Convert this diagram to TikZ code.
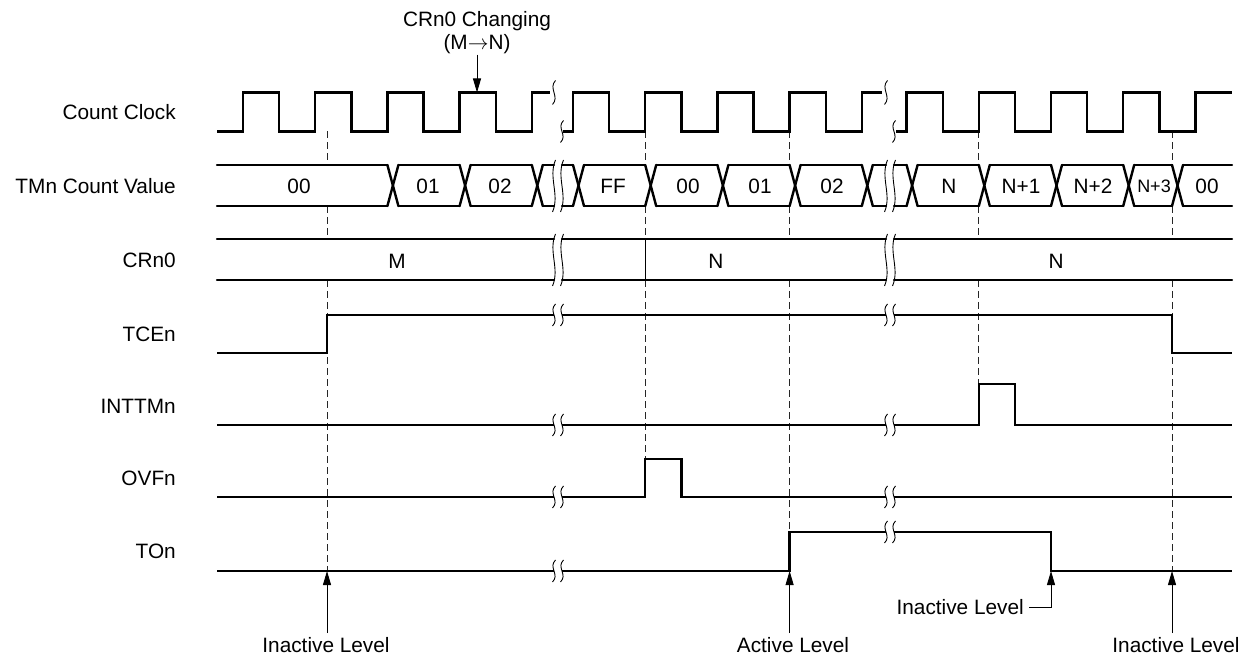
\documentclass[tikz,border=0pt]{standalone}
\usepackage{fontspec}
\setmainfont{Liberation Sans}
\usetikzlibrary{arrows.meta,calc}
\newcommand{\wavy}[3]{\draw[thinl] (#1+1.5,#2-#3) .. controls (#1-6,#2-#3/3) and (#1+6,#2+#3/3) .. (#1-1.5,#2+#3);}
\begin{document}
\begin{tikzpicture}[x=1pt,y=-1pt,
  sig/.style={line width=2.4pt, line join=miter, line cap=butt},
  bus/.style={line width=2.4pt, line cap=round},
  thinl/.style={line width=0.9pt},
  guide/.style={line width=0.9pt, dash pattern=on 7pt off 4pt, black!85},
  arr/.style={line width=0.9pt, -{Triangle[length=14pt,width=8pt]}},
  lbl/.style={font=\fontsize{20.8}{24}\selectfont, inner sep=0pt},
  val/.style={font=\fontsize{20.8}{24}\selectfont, inner sep=0pt},
  sval/.style={font=\fontsize{18}{20}\selectfont, inner sep=0pt}]
\path[use as bounding box] (0,0) rectangle (1256,660);

% ---- signal names ----
\node[lbl, anchor=east] (lclk) at (176,112) {Count Clock};
\node[lbl, anchor=east] (ltm)  at (176,186) {TMn Count Value};
\node[lbl, anchor=east] (lcr)  at (176,260) {CRn0};
\node[lbl, anchor=east] (ltce) at (176,334) {TCEn};
\node[lbl, anchor=east] (lint) at (176,406) {INTTMn};
\node[lbl, anchor=east] (lovf) at (176,478) {OVFn};
\node[lbl, anchor=east] (lton) at (176,551) {TOn};

% ---- dashed guides ----
\foreach \x/\e in {327/571, 645.2/459, 789.6/532, 978.8/384, 1172/571} {
  \draw[guide] (\x,131.5) -- (\x,165);
  \draw[guide] (\x,206) -- (\x,239);
  \draw[guide] (\x,280) -- (\x,\e);
}

% ---- count clock ----
\draw[sig] (217,131.5) -- (243,131.5) -- (243,92.5) -- (279.1,92.5) -- (279.1,131.5)
  -- (315.2,131.5) -- (315.2,92.5) -- (351.3,92.5) -- (351.3,131.5)
  -- (387.4,131.5) -- (387.4,92.5) -- (423.5,92.5) -- (423.5,131.5)
  -- (459.6,131.5) -- (459.6,92.5) -- (495.7,92.5) -- (495.7,131.5)
  -- (531.8,131.5) -- (531.8,92.5) -- (550,92.5);
\draw[sig] (563,131.5) -- (573,131.5) -- (573,92.5) -- (609.1,92.5) -- (609.1,131.5)
  -- (645.2,131.5) -- (645.2,92.5) -- (681.3,92.5) -- (681.3,131.5)
  -- (717.4,131.5) -- (717.4,92.5) -- (753.5,92.5) -- (753.5,131.5)
  -- (789.6,131.5) -- (789.6,92.5) -- (825.7,92.5) -- (825.7,131.5)
  -- (861.8,131.5) -- (861.8,92.5) -- (882,92.5);
\draw[sig] (896,131.5) -- (906.6,131.5) -- (906.6,92.5) -- (942.7,92.5) -- (942.7,131.5)
  -- (978.8,131.5) -- (978.8,92.5) -- (1014.9,92.5) -- (1014.9,131.5)
  -- (1051,131.5) -- (1051,92.5) -- (1087.1,92.5) -- (1087.1,131.5)
  -- (1123.2,131.5) -- (1123.2,92.5) -- (1159.3,92.5) -- (1159.3,131.5)
  -- (1195.4,131.5) -- (1195.4,92.5) -- (1232,92.5);
\wavy{554}{92.5}{12}
\wavy{562}{131.5}{11}
\wavy{886}{92.5}{12}
\wavy{894}{131.5}{11}

% ---- TMn count value bus ----
\foreach \a/\b in {217/387.4, 398.4/459.6, 470.6/531.8, 542.8/554, 562/573,
    584/645.2, 656.2/717.4, 728.4/789.6, 800.6/861.8, 872.8/886, 894/906.6,
    917.6/978.8, 989.8/1051, 1062/1123.2, 1134.2/1172, 1183/1232} {
  \draw[bus] (\a,165) -- (\b,165);
  \draw[bus] (\a,206) -- (\b,206);
}
\foreach \x in {387.4, 459.6, 531.8, 573, 645.2, 717.4, 789.6, 861.8, 906.6,
    978.8, 1051, 1123.2, 1172} {
  \draw[bus] (\x,165) -- (\x+11,206);
  \draw[bus] (\x,206) -- (\x+11,165);
}
\wavy{554}{186}{26}
\wavy{562}{186}{26}
\wavy{886}{186}{26}
\wavy{894}{186}{26}
\node[val] (v1)  at (299,186) {00};
\node[val] (v2)  at (428,186) {01};
\node[val] (v3)  at (500,186) {02};
\node[val] (v4)  at (613,186) {FF};
\node[val] (v5)  at (688,186) {00};
\node[val] (v6)  at (760,186) {01};
\node[val] (v7)  at (832,186) {02};
\node[val] (v8)  at (949,186) {N};
\node[val] (v9)  at (1021,186) {N+1};
\node[val] (v10) at (1093,186) {N+2};
\node[sval] (v11) at (1154,186) {N+3};
\node[val] (v12) at (1207,186) {00};

% ---- CRn0 bus ----
\foreach \a/\b in {217/554, 562/886, 894/1232} {
  \draw[bus] (\a,239) -- (\b,239);
  \draw[bus] (\a,280) -- (\b,280);
}
\draw[thinl] (645.2,239) -- (645.2,280);
\wavy{554}{260}{26}
\wavy{562}{260}{26}
\wavy{886}{260}{26}
\wavy{894}{260}{26}
\node[val] (c1) at (397,261) {M};
\node[val] (c2) at (716,261) {N};
\node[val] (c3) at (1056,261) {N};

% ---- TCEn ----
\draw[sig] (217,353) -- (327,353) -- (327,315) -- (554,315);
\draw[sig] (562,315) -- (886,315);
\draw[sig] (894,315) -- (1172,315) -- (1172,353) -- (1232,353);
\wavy{554}{315}{11}\wavy{562}{315}{11}\wavy{886}{315}{11}\wavy{894}{315}{11}

% ---- INTTMn ----
\draw[sig] (217,425) -- (554,425);
\draw[sig] (562,425) -- (886,425);
\draw[sig] (894,425) -- (978.8,425) -- (978.8,384) -- (1014.9,384) -- (1014.9,425) -- (1232,425);
\wavy{554}{425}{11}\wavy{562}{425}{11}\wavy{886}{425}{11}\wavy{894}{425}{11}

% ---- OVFn ----
\draw[sig] (217,497) -- (554,497);
\draw[sig] (562,497) -- (645.2,497) -- (645.2,459) -- (681.3,459) -- (681.3,497) -- (886,497);
\draw[sig] (894,497) -- (1232,497);
\wavy{554}{497}{11}\wavy{562}{497}{11}\wavy{886}{497}{11}\wavy{894}{497}{11}

% ---- TOn ----
\draw[sig] (217,571) -- (554,571);
\draw[sig] (562,571) -- (789.6,571) -- (789.6,532) -- (886,532);
\draw[sig] (894,532) -- (1051,532) -- (1051,571) -- (1232,571);
\wavy{554}{571}{11}\wavy{562}{571}{11}\wavy{886}{532}{11}\wavy{894}{532}{11}

% ---- CRn0 change annotation ----
\node[lbl, anchor=base] (chg1) at (477,27) {CRn0 Changing};
\node[lbl, anchor=base] (chg2) at (477,50) {(M$\rightarrow$N)};
\coordinate (tchg) at (477,92.5);
\draw[arr] (chg2.south) -- (tchg);

% ---- level annotations ----
\coordinate (a1) at (327,571);
\coordinate (a2) at (789.6,571);
\coordinate (a3) at (1051,571);
\coordinate (a4) at (1172,571);
\node[lbl, anchor=north] (b1) at (326,637) {Inactive Level};
\node[lbl, anchor=north] (b2) at (793,637) {Active Level};
\node[lbl, anchor=east]  (b3) at (1024,607) {Inactive Level};
\node[lbl, anchor=north] (b4) at (1176,637) {Inactive Level};
\draw[arr] ($(b1.north -| a1)+(0,-4)$) -- (a1);
\draw[arr] ($(b2.north -| a2)+(0,-4)$) -- (a2);
\draw[arr] ($(b4.north -| a4)+(0,-4)$) -- (a4);
\draw[arr] ($(b3.east)+(5,0)$) -| (a3);
\end{tikzpicture}
\end{document}
